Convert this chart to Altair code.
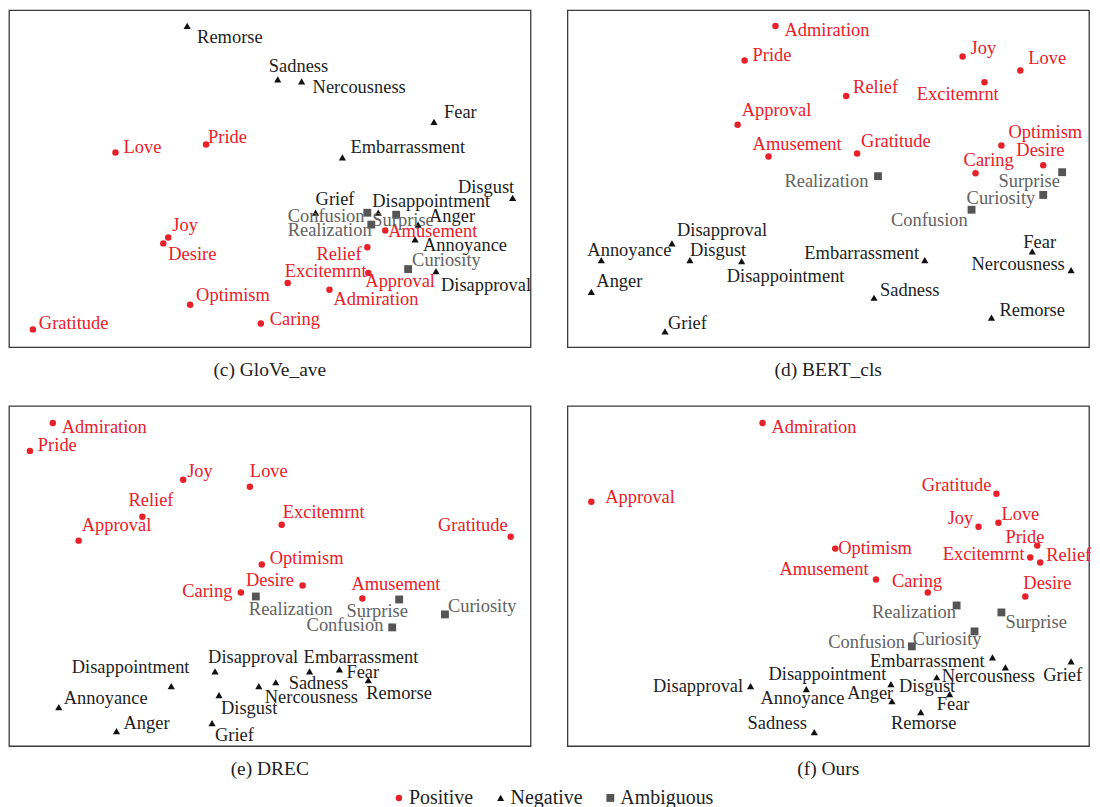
import altair as alt
import pandas as pd

FONT = "Liberation Serif"

emotions = ["Admiration", "Amusement", "Approval", "Caring", "Desire", "Excitemrnt",
            "Gratitude", "Joy", "Love", "Optimism", "Pride", "Relief",
            "Anger", "Annoyance", "Disappointment", "Disapproval", "Disgust",
            "Embarrassment", "Fear", "Grief", "Nercousness", "Remorse", "Sadness",
            "Confusion", "Curiosity", "Realization", "Surprise"]
types = ["Positive"] * 12 + ["Negative"] * 11 + ["Ambiguous"] * 4
type_order = ["Positive", "Negative", "Ambiguous"]

# (c) GloVe_ave : point coords and label coords
c_x = [322, 378, 361, 253, 155, 280, 24, 160, 107, 182, 198, 360,
       411, 408, 371, 429, 506, 335, 427, 308, 294, 179, 270,
       360, 401, 364, 389]
c_y = [58, 118, 75, 24, 105, 65, 18, 111, 197, 43, 205, 101,
       124, 109, 136, 77, 151, 192, 228, 136, 269, 325, 271,
       136, 79, 124, 134]
c_lx = [326, 381, 358, 262, 160, 277, 30, 164, 115, 188, 200, 309,
        422, 416, 365, 434, 451, 343, 437, 308, 305, 189, 261,
        280, 405, 280, 365]
c_ly = [49, 118, 67, 28, 94, 77, 24, 124, 202, 53, 213, 94,
        133, 103, 148, 63, 162, 202, 238, 150, 263, 314, 284,
        133, 88, 119, 129]

# (d) BERT_cls
d_x = [209, 202, 171, 410, 478, 419, 291, 397, 455, 436, 178, 280,
       24, 34, 175, 105, 123, 359, 467, 98, 506, 426, 308,
       406, 478, 312, 497]
d_y = [325, 193, 225, 176, 184, 268, 196, 294, 280, 204, 290, 254,
       56, 88, 87, 105, 88, 88, 97, 16, 78, 30, 50,
       139, 154, 173, 177]
d_lx = [218, 186, 175, 398, 451, 351, 295, 405, 463, 443, 186, 287,
        29, 20, 160, 110, 123, 238, 458, 101, 406, 434, 314,
        325, 401, 218, 433]
d_ly = [321, 206, 240, 189, 199, 256, 209, 303, 293, 218, 296, 263,
        67, 98, 72, 119, 98, 95, 106, 24, 84, 38, 58,
        129, 151, 168, 168]

# (e) DREC
e_x = [44, 355, 70, 233, 295, 274, 504, 175, 242, 254, 21, 134,
       108, 50, 163, 207, 211, 302, 332, 204, 251, 361, 268,
       385, 438, 248, 392]
e_y = [324, 148, 206, 154, 161, 222, 210, 267, 260, 182, 296, 230,
       15, 39, 60, 75, 51, 75, 77, 23, 60, 66, 64,
       119, 132, 150, 147]
e_lx = [53, 344, 73, 174, 238, 275, 431, 179, 242, 262, 29, 120,
        115, 55, 63, 200, 213, 296, 339, 207, 257, 359, 281,
        299, 441, 241, 339]
e_ly = [320, 162, 222, 155, 167, 235, 222, 276, 276, 189, 302, 247,
        23, 48, 79, 89, 38, 89, 74, 11, 49, 53, 63,
        121, 140, 137, 135]

# (f) Ours
f_x = [196, 310, 24, 362, 460, 465, 431, 413, 433, 269, 472, 475,
       326, 240, 325, 184, 371, 427, 384, 506, 440, 355, 248,
       346, 409, 391, 436]
f_y = [324, 167, 245, 154, 150, 189, 253, 220, 224, 198, 201, 184,
       45, 57, 62, 60, 69, 89, 52, 85, 79, 34, 14,
       100, 115, 141, 134]
f_lx = [205, 213, 38, 326, 458, 377, 356, 382, 436, 272, 440, 481,
        281, 194, 202, 86, 333, 304, 371, 478, 376, 325, 181,
        262, 347, 306, 440]
f_ly = [320, 178, 250, 166, 163, 193, 262, 229, 233, 199, 210, 192,
        53, 48, 72, 60, 60, 85, 42, 71, 70, 23, 23,
        104, 107, 134, 124]

captions = ["(c) GloVe_ave", "(d) BERT_cls", "(e) DREC", "(f) Ours"]

marker_colors = ["#e8202a", "#111111", "#555555"]
marker_sizes = [42, 62, 48]
text_colors = {"Positive": "#e8202a", "Negative": "#1e1e1e", "Ambiguous": "#626262"}
shapes = ["circle", "triangle-up", "square"]

W = 523
xs = alt.Scale(domain=[0, 524], nice=False, zero=False)
ys = alt.Scale(domain=[0, 341], nice=False, zero=False)

LEG = dict(title=None, orient="none", legendX=381, legendY=780, direction="horizontal")


def panel(px, py, lx, ly, caption, h):
    df = pd.DataFrame({"emotion": emotions, "type": types,
                       "x": px, "y": py, "lx": lx, "ly": ly})
    df["tcolor"] = df["type"].map(text_colors)
    pts = alt.Chart(df).mark_point(filled=True, opacity=1).encode(
        x=alt.X("x:Q", scale=xs, axis=None),
        y=alt.Y("y:Q", scale=ys, axis=None),
        color=alt.Color("type:N", scale=alt.Scale(domain=type_order, range=marker_colors),
                        legend=alt.Legend(**LEG)),
        shape=alt.Shape("type:N", scale=alt.Scale(domain=type_order, range=shapes),
                        legend=alt.Legend(**LEG)),
        size=alt.Size("type:N", scale=alt.Scale(domain=type_order, range=marker_sizes),
                      legend=None),
    )
    txt = alt.Chart(df).mark_text(align="left", baseline="middle", font=FONT,
                                  fontSize=18.5).encode(
        x=alt.X("lx:Q", scale=xs, axis=None),
        y=alt.Y("ly:Q", scale=ys, axis=None),
        text="emotion:N",
        color=alt.Color("tcolor:N", scale=None),
    )
    return alt.layer(pts, txt).properties(
        width=W, height=h,
        title=alt.TitleParams(caption, orient="bottom", anchor="middle", baseline="middle",
                              offset=23, font=FONT, fontSize=19.5, fontWeight="normal",
                              color="#222222"),
    )


panels = [
    panel(c_x, c_y, c_lx, c_ly, captions[0], 338),
    panel(d_x, d_y, d_lx, d_ly, captions[1], 338),
    panel(e_x, e_y, e_lx, e_ly, captions[2], 341),
    panel(f_x, f_y, f_lx, f_ly, captions[3], 341),
]

chart = alt.concat(*panels, columns=2, spacing={"row": 59, "column": 37},
                   bounds="flush").configure(
    padding={"left": 0, "top": 0, "right": 0, "bottom": 0},
).configure_view(
    stroke="#3a3a3a", strokeWidth=1.3, fill="white"
).configure_legend(
    labelFont=FONT, labelFontSize=20, labelColor="#222222", symbolSize=42,
    labelOffset=0, columnPadding=17, symbolStrokeWidth=0,
)

chart.save("out.html", embed_options={"renderer": "svg", "actions": False})
